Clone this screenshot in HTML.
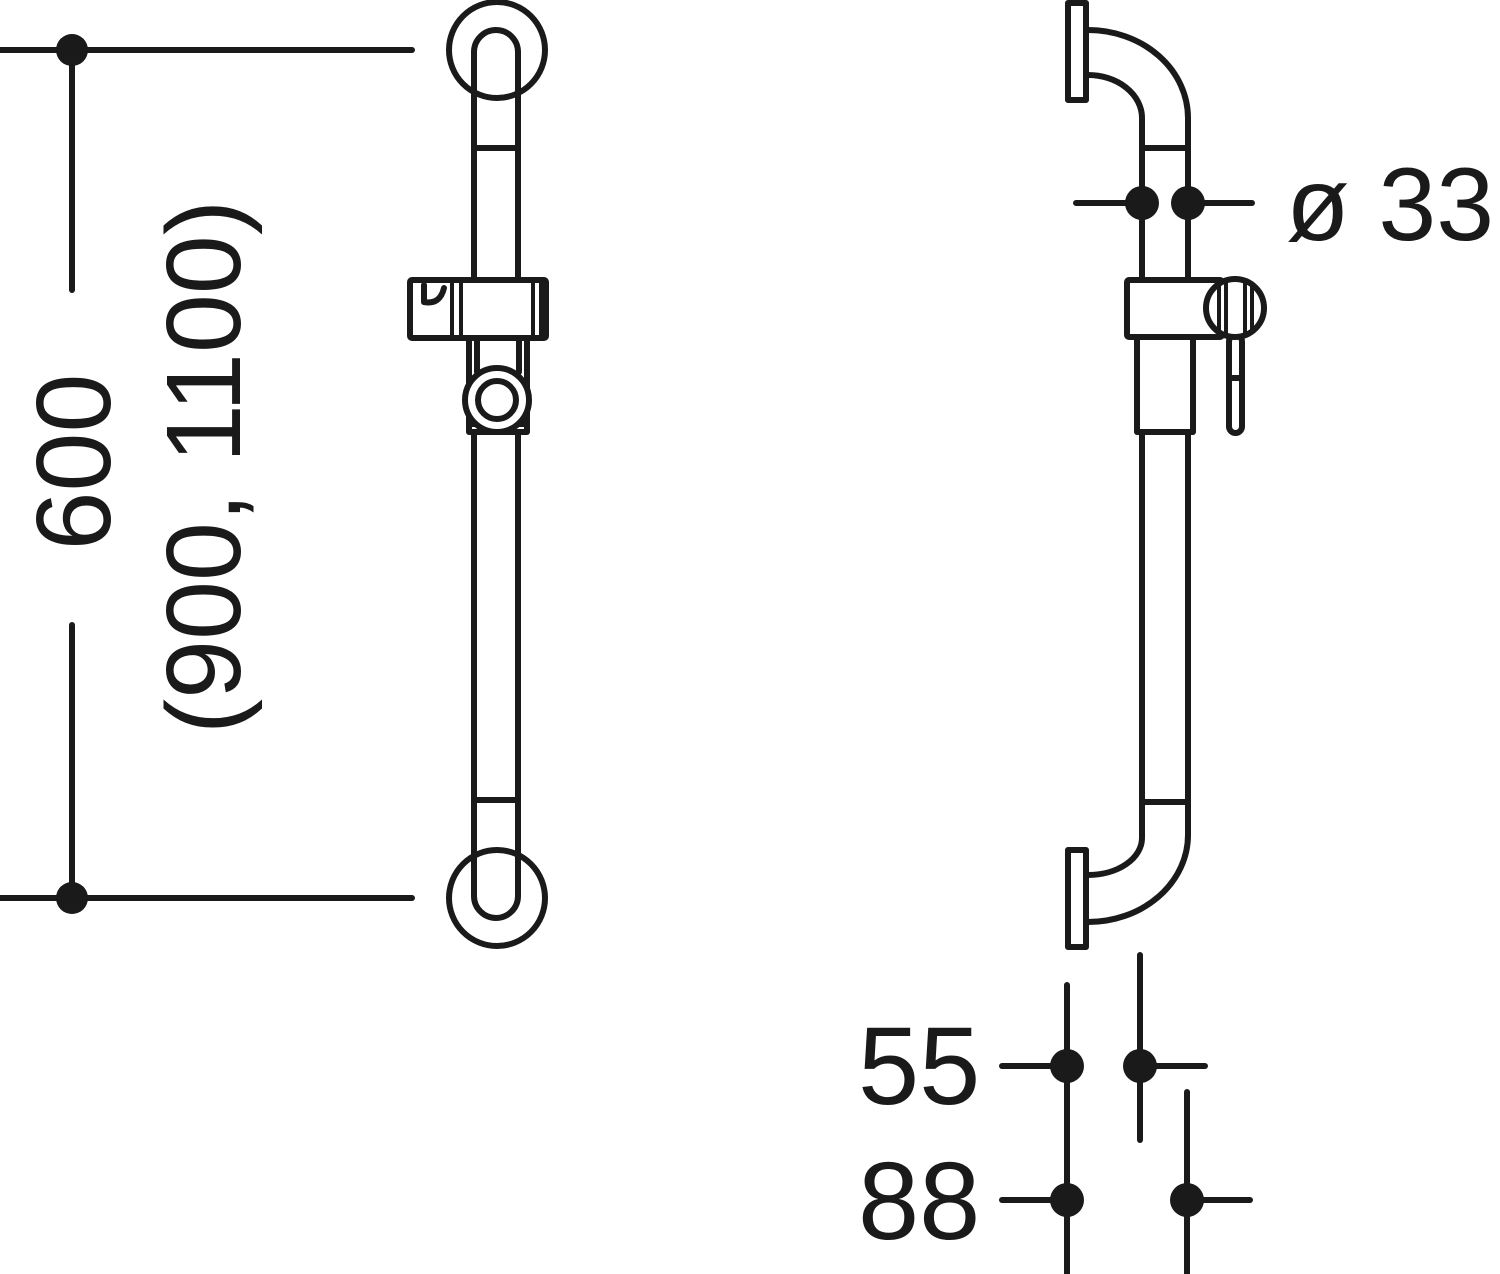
<!DOCTYPE html>
<html><head><meta charset="utf-8"><style>html,body{margin:0;padding:0;background:#fff}svg{display:block}</style></head><body>
<svg width="1500" height="1274" viewBox="0 0 1500 1274" xmlns="http://www.w3.org/2000/svg">
<g fill="none" stroke="#1a1a1a" stroke-width="6" stroke-linecap="round" stroke-linejoin="round">
<line x1="0" y1="50" x2="412" y2="50"/>
<line x1="0" y1="898" x2="412" y2="898"/>
<line x1="72" y1="50" x2="72" y2="290"/>
<line x1="72" y1="625" x2="72" y2="898"/>
<circle cx="497" cy="50" r="48"/>
<circle cx="497" cy="898" r="48"/>
<path d="M474 280 V52 A22 22 0 0 1 518 52 V280"/>
<path d="M474 432 V896 A22 22 0 0 0 518 896 V432"/>
<line x1="474" y1="148" x2="518" y2="148"/>
<line x1="474" y1="800" x2="518" y2="800"/>
<rect x="410" y="280" width="136" height="58" rx="2"/>
<g stroke-width="4">
<line x1="452" y1="280" x2="452" y2="338"/>
<line x1="461" y1="280" x2="461" y2="338"/>
<line x1="533" y1="280" x2="533" y2="338"/>
<line x1="541" y1="280" x2="541" y2="338"/>
</g>
<path d="M424 285 V302 Q440 305 444 288"/>
<rect x="469" y="338" width="58" height="94"/>
<line x1="477" y1="338" x2="477" y2="372"/>
<line x1="519" y1="338" x2="519" y2="372"/>
<line x1="469" y1="424" x2="527" y2="424"/>
<circle cx="497" cy="400" r="32" fill="#fff"/>
<circle cx="497" cy="400" r="19"/>
<rect x="1068" y="3" width="18" height="97"/>
<rect x="1068" y="850" width="18" height="97"/>
<path d="M1088 30 A100 88 0 0 1 1188 118 V280"/>
<path d="M1088 75 A54 43 0 0 1 1142 118 V280"/>
<line x1="1142" y1="148" x2="1188" y2="148"/>
<line x1="1076" y1="203" x2="1142" y2="203"/>
<line x1="1188" y1="203" x2="1252" y2="203"/>
<path d="M1188 432 V835 A100 87 0 0 1 1088 922"/>
<path d="M1142 432 V838 A54 37 0 0 1 1088 875"/>
<line x1="1142" y1="802" x2="1188" y2="802"/>
<rect x="1127" y="280" width="95" height="57" rx="2"/>
<rect x="1137" y="337" width="56" height="95"/>
<rect x="1229" y="335" width="13" height="98" rx="6.5"/>
<line x1="1229" y1="378" x2="1242" y2="378"/>
<circle cx="1235" cy="308" r="29" fill="#fff"/>
<g stroke-width="4">
<line x1="1219" y1="286" x2="1219" y2="330"/>
<line x1="1226" y1="281" x2="1226" y2="335"/>
<line x1="1245" y1="281" x2="1245" y2="335"/>
<line x1="1252" y1="286" x2="1252" y2="330"/>
</g>
<line x1="1067" y1="985" x2="1067" y2="1274"/>
<line x1="1140" y1="955" x2="1140" y2="1140"/>
<line x1="1187" y1="1092" x2="1187" y2="1274"/>
<line x1="1002" y1="1066" x2="1067" y2="1066"/>
<line x1="1140" y1="1066" x2="1205" y2="1066"/>
<line x1="1002" y1="1200" x2="1067" y2="1200"/>
<line x1="1187" y1="1200" x2="1250" y2="1200"/>
</g>
<g fill="#1a1a1a">
<circle cx="72" cy="50" r="16"/><circle cx="72" cy="898" r="16"/>
<circle cx="1142" cy="203" r="17"/><circle cx="1188" cy="203" r="17"/>
<circle cx="1067" cy="1066" r="17"/><circle cx="1140" cy="1066" r="17"/>
<circle cx="1067" cy="1200" r="17"/><circle cx="1187" cy="1200" r="17"/>
</g>
<g font-family="Liberation Sans, sans-serif" fill="#1a1a1a">
<text transform="translate(110,462) rotate(-90)" font-size="106" text-anchor="middle">600</text>
<text transform="translate(240,467) rotate(-90)" font-size="106" text-anchor="middle">(900, 1100)</text>
<text x="1286" y="240" font-size="104">ø 33</text>
<text x="858" y="1104" font-size="110">55</text>
<text x="858" y="1239" font-size="110">88</text>
</g>
</svg>
</body></html>
